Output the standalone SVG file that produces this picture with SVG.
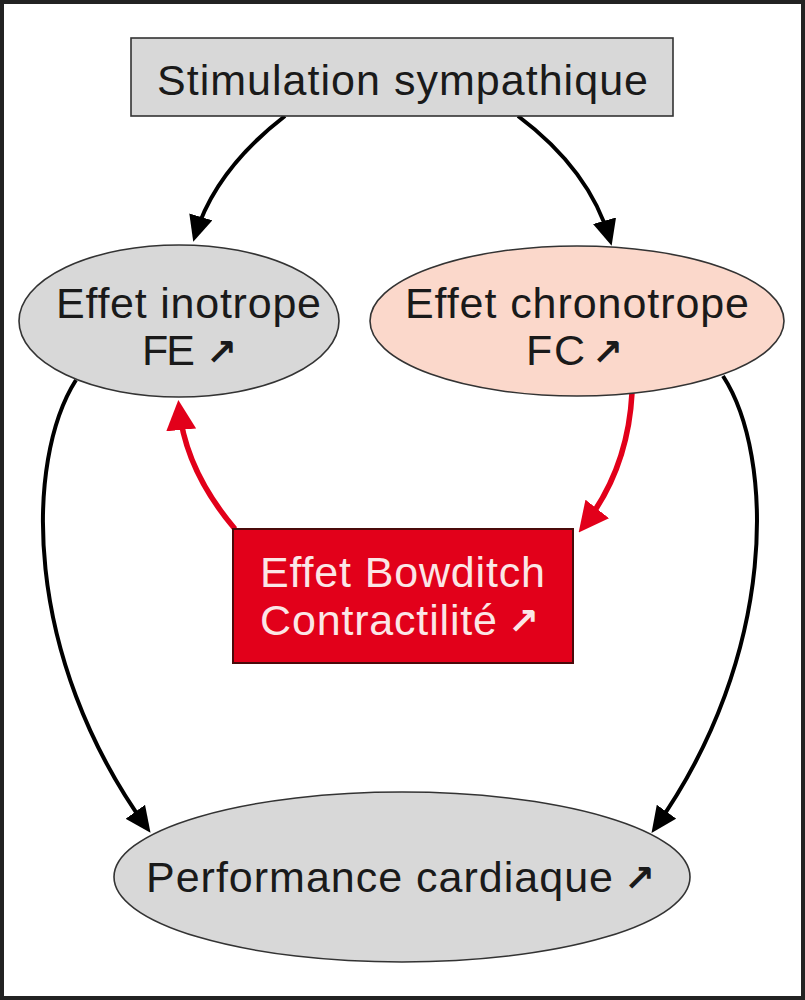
<svg xmlns="http://www.w3.org/2000/svg" width="805" height="1000" viewBox="0 0 805 1000">
<style>
  text { font-family: "Liberation Sans", Arial, sans-serif; font-size: 43px; fill: #1a1a1a; }
  .w { fill: #fbe6e6; }
  .arr { font-family: "DejaVu Sans", sans-serif; font-weight: bold; font-size: 37px; }
  .node { stroke: #333; stroke-width: 1.6; }
  .gray { fill: #d8d8d8; }
  .pink { fill: #fbd8cb; }
  .red { fill: #e2001a; stroke: #4a0a0a; stroke-width: 2; }
  .blk { fill: none; stroke: #000; stroke-width: 4; }
  .rl { fill: none; stroke: #e2001a; stroke-width: 5.5; }
</style>
<defs>
  <marker id="ab" markerWidth="26" markerHeight="24" refX="20" refY="12" orient="auto" markerUnits="userSpaceOnUse">
    <path d="M0,0 L26,12 L0,24 z" fill="#000"/>
  </marker>
  <marker id="ar" markerWidth="30" markerHeight="30" refX="23" refY="15" orient="auto" markerUnits="userSpaceOnUse">
    <path d="M0,0 L30,15 L0,30 z" fill="#e2001a"/>
  </marker>
</defs>
<rect x="2" y="2" width="801" height="996" fill="#fff" stroke="#222" stroke-width="4"/>

<g id="connectors">
  <path class="blk" d="M285,116 Q215,170 195,236" marker-end="url(#ab)"/>
  <path class="blk" d="M518,116 Q590,170 610,240" marker-end="url(#ab)"/>
  <path class="blk" d="M76,380 C25,460 22,655 147,828" marker-end="url(#ab)"/>
  <path class="blk" d="M723,376 C775,456 778,655 655,828" marker-end="url(#ab)"/>
  <path class="rl" d="M235,529 Q185,470 179,407" marker-end="url(#ar)"/>
  <path class="rl" d="M632,393 Q628,470 583,527" marker-end="url(#ar)"/>
</g>

<g id="stimulation">
  <rect class="node gray" x="131" y="38" width="542" height="78"/>
  <text x="157" y="95" textLength="491">Stimulation sympathique</text>
</g>

<g id="inotrope">
  <ellipse class="node gray" cx="179" cy="321" rx="160" ry="76"/>
  <text x="56" y="318" textLength="265">Effet inotrope</text>
  <text x="142" y="365" textLength="53">FE</text>
  <text class="arr" x="206" y="365">↗</text>
</g>

<g id="chronotrope">
  <ellipse class="node pink" cx="577" cy="321" rx="207" ry="75"/>
  <text x="405" y="318" textLength="344">Effet chronotrope</text>
  <text x="526" y="365" textLength="59">FC</text>
  <text class="arr" x="592" y="365">↗</text>
</g>

<g id="bowditch">
  <rect class="red" x="233" y="529" width="340" height="134"/>
  <text class="w" x="260" y="587" textLength="285">Effet Bowditch</text>
  <text class="w" x="260" y="635" textLength="237">Contractilité</text>
  <text class="arr w" x="508" y="634">↗</text>
</g>

<g id="performance">
  <ellipse class="node gray" cx="402" cy="877" rx="288" ry="85"/>
  <text x="146" y="892" textLength="467">Performance cardiaque</text>
  <text class="arr" x="624" y="891">↗</text>
</g>
</svg>
